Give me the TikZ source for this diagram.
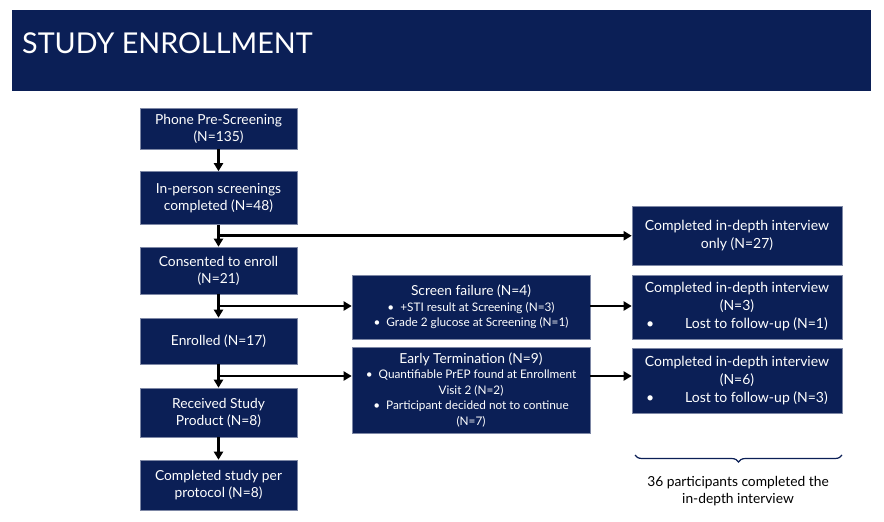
\documentclass[tikz,border=0pt]{standalone}
\usepackage{fontspec}
\setmainfont{Lato}
\usetikzlibrary{arrows.meta,calc,decorations.pathreplacing}
\definecolor{navy}{RGB}{11,31,86}
\definecolor{boxline}{RGB}{125,135,165}
\begin{document}
\begin{tikzpicture}[x=1pt, y=-1pt,
    box/.style={fill=navy, draw=boxline, line width=0.6pt, text=white,
      align=center, inner sep=0pt, font=\fontsize{13.8}{17}\selectfont},
    leftbox/.style={box, minimum width=157pt},
    midbox/.style={box, minimum width=238pt, font=\fontsize{11.8}{15.5}\selectfont},
    rightbox/.style={box, minimum width=210pt, font=\fontsize{14}{18}\selectfont},
    arr/.style={line width=2.8pt, -{Triangle[length=8pt,width=9pt]}}]
  \useasboundingbox (0,0) rectangle (884,522);
  % header band
  \fill[navy] (12,10) rectangle (871,91);
  \node[anchor=base west, inner sep=0pt, text=white,
    font=\fontsize{28.7}{30}\selectfont] (title) at (22,53) {STUDY ENROLLMENT};
  % main column
  \node[leftbox, minimum height=41pt] (phone) at (218.5,128.5)
    {Phone Pre-Screening\\(N=135)};
  \node[leftbox, minimum height=53pt] (inperson) at (218.5,198)
    {In-person screenings\\completed (N=48)};
  \node[leftbox, minimum height=47pt] (consent) at (218.5,270.5)
    {Consented to enroll\\(N=21)};
  \node[leftbox, minimum height=46pt] (enrolled) at (218.5,341)
    {Enrolled (N=17)};
  \node[leftbox, minimum height=49pt] (received) at (218.5,412.5)
    {Received Study\\Product (N=8)};
  \node[leftbox, minimum height=50pt] (complete) at (218.5,485)
    {Completed study per\\protocol (N=8)};
  % exits
  \node[midbox, minimum height=64pt] (sfail) at (471,307)
    {{\fontsize{13.8}{15.5}\selectfont Screen failure (N=4)}\\
     \textbullet\ \ +STI result at Screening (N=3)\\
     \textbullet\ \ Grade 2 glucose at Screening (N=1)};
  \node[midbox, minimum height=86pt] (etrm) at (471,390)
    {{\fontsize{13.8}{15.5}\selectfont Early Termination (N=9)}\\
     \textbullet\ \ Quantifiable PrEP found at Enrollment\\
     Visit 2 (N=2)\\
     \textbullet\ \ Participant decided not to continue\\
     (N=7)};
  % interviews
  \node[rightbox, minimum height=59pt] (idi1) at (737,235.5)
    {Completed in-depth interview\\only (N=27)};
  \node[rightbox, minimum height=64pt] (idi2) at (737,307)
    {Completed in-depth interview\\(N=3)\\
     \textbullet\hspace{2.2em}Lost to follow-up (N=1)};
  \node[rightbox, minimum height=65pt] (idi3) at (737,380.5)
    {Completed in-depth interview\\(N=6)\\
     \textbullet\hspace{2.2em}Lost to follow-up (N=3)};
  % branch points
  \coordinate (b1) at ($(inperson.south)!.5!(consent.north)$);
  \coordinate (b2) at ($(consent.south)!.5!(enrolled.north)$);
  \coordinate (b3) at ($(enrolled.south)!.5!(received.north)$);
  \draw[arr] (phone) -- (inperson);
  \draw[arr] (inperson) -- (consent);
  \draw[arr] (consent) -- (enrolled);
  \draw[arr] (enrolled) -- (received);
  \draw[arr] (received) -- (complete);
  \draw[arr] (b1) -- (b1 -| idi1.west);
  \draw[arr] (b2) -- (b2 -| sfail.west);
  \draw[arr] (b3) -- (b3 -| etrm.west);
  \draw[arr] (sfail.east |- b2) -- (b2 -| idi2.west);
  \draw[arr] (etrm.east |- b3) -- (b3 -| idi3.west);
  % total
  \draw[navy, line width=1.2pt, decorate,
    decoration={brace, mirror, amplitude=7pt}] (635,455) -- (842,455);
  \node[align=center, inner sep=0pt, font=\fontsize{13.8}{17}\selectfont]
    (total) at (738,491) {36 participants completed the\\in-depth interview};
\end{tikzpicture}
\end{document}
